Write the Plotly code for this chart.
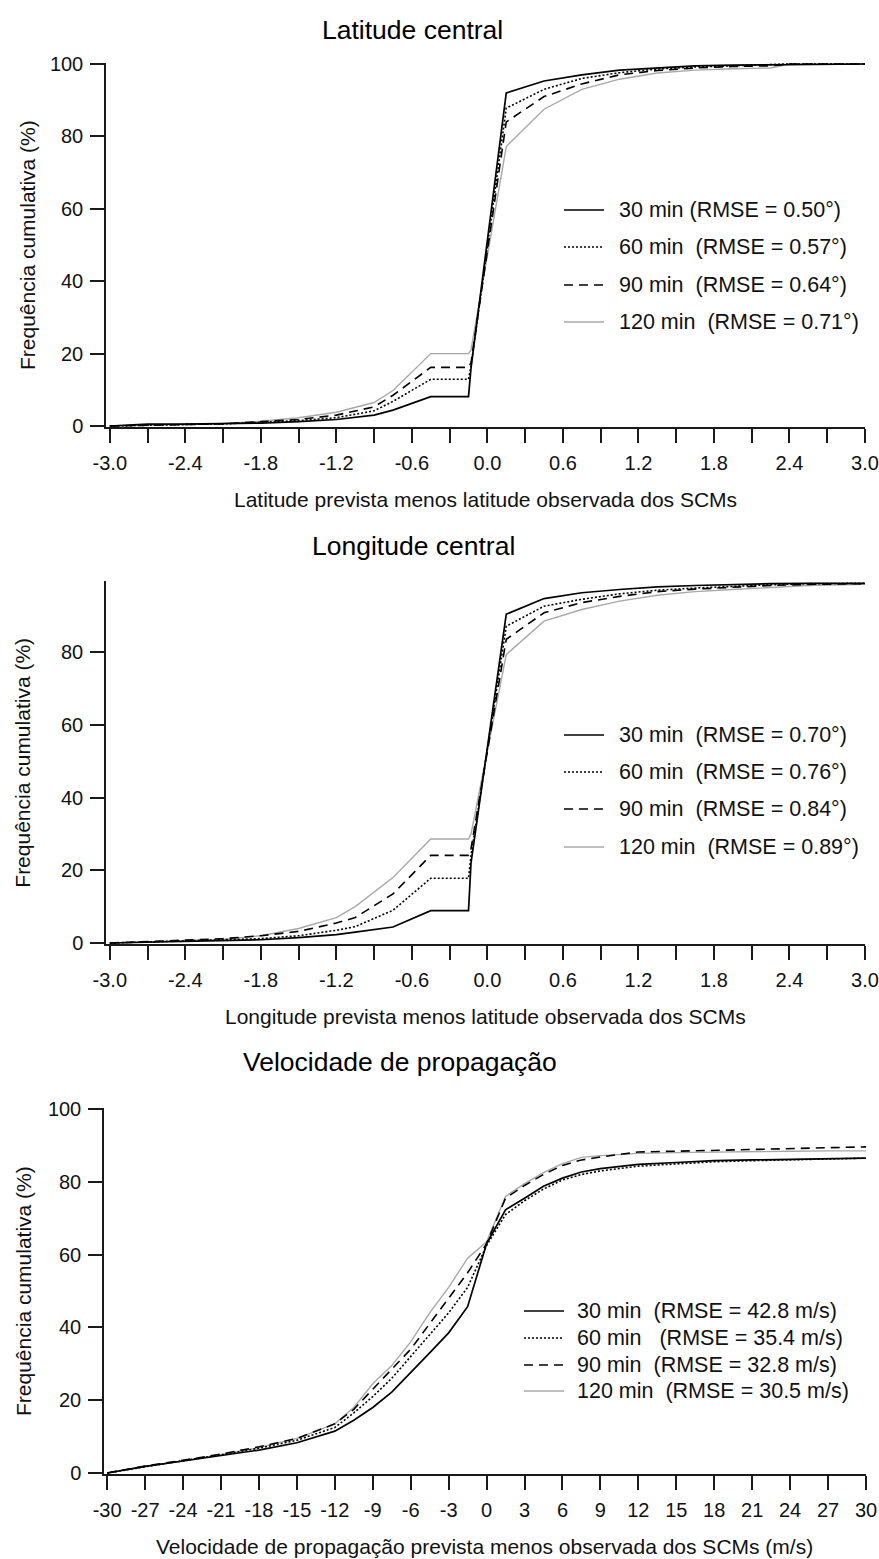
import plotly.graph_objects as go

# ---------------- data ----------------
series_names = ["30 min", "60 min", "90 min", "120 min"]

# Panel 1 : Latitude central
x_lat = [-3.0, -2.7, -2.4, -2.1, -1.8, -1.5, -1.2, -0.9, -0.75, -0.45, -0.15, -0.13,
         0.15, 0.45, 0.75, 1.05, 1.35, 1.65, 1.95, 2.25, 2.4, 3.0]
lat_30 = [0, 0.5, 0.5, 0.6, 0.8, 1.2, 1.8, 3.0, 4.4, 8.1, 8.1, 16.0,
          92.0, 95.3, 97.0, 98.3, 99.0, 99.5, 99.7, 99.8, 100, 100]
lat_60 = [0, 0.2, 0.3, 0.6, 1.0, 1.5, 2.3, 4.2, 6.8, 12.9, 12.9, 16.5,
          87.8, 93.0, 96.0, 97.6, 98.6, 99.2, 99.5, 99.7, 100, 100]
lat_90 = [0, 0.2, 0.4, 0.6, 1.2, 1.8, 3.0, 5.3, 8.5, 16.2, 16.2, 17.5,
          84.0, 91.0, 94.5, 97.0, 98.2, 98.9, 99.3, 99.5, 100, 100]
lat_120 = [0, 0.2, 0.4, 0.7, 1.3, 2.3, 3.8, 6.5, 9.8, 20.0, 20.0, 21.0,
           77.2, 87.5, 93.0, 95.8, 97.5, 98.3, 98.7, 98.9, 100, 100]
lat_legend = ["30 min (RMSE = 0.50°)",
              "60 min \u00a0(RMSE = 0.57°)",
              "90 min \u00a0(RMSE = 0.64°)",
              "120 min \u00a0(RMSE = 0.71°)"]

# Panel 2 : Longitude central
x_lon = [-3.0, -2.7, -2.4, -2.1, -1.8, -1.5, -1.2, -1.05, -0.75, -0.45, -0.15, -0.13,
         0.15, 0.45, 0.75, 1.05, 1.35, 1.65, 1.95, 2.25, 2.55, 3.0]
lon_30 = [0, 0.2, 0.4, 0.6, 0.9, 1.5, 2.3, 3.0, 4.4, 8.9, 8.9, 22.0,
          90.4, 94.7, 96.3, 97.2, 97.9, 98.3, 98.6, 98.8, 98.9, 98.9]
lon_60 = [0, 0.3, 0.5, 0.8, 1.2, 2.0, 3.5, 4.5, 9.0, 17.8, 17.8, 24.0,
          87.1, 92.6, 94.5, 96.0, 97.0, 97.6, 98.1, 98.5, 98.8, 98.9]
lon_90 = [0, 0.5, 0.8, 1.2, 2.0, 3.2, 5.5, 7.0, 13.5, 24.1, 24.1, 26.0,
          83.5, 90.8, 93.6, 95.3, 96.6, 97.3, 97.9, 98.3, 98.6, 98.8]
lon_120 = [0, 0.3, 0.5, 1.0, 2.0, 4.0, 7.0, 10.0, 18.0, 28.6, 28.6, 30.0,
           79.3, 88.5, 91.7, 94.0, 95.6, 96.6, 97.2, 97.8, 98.3, 98.6]
lon_legend = ["30 min \u00a0(RMSE = 0.70°)",
              "60 min \u00a0(RMSE = 0.76°)",
              "90 min \u00a0(RMSE = 0.84°)",
              "120 min \u00a0(RMSE = 0.89°)"]

# Panel 3 : Velocidade de propagação
x_vel = [-30, -27, -24, -21, -18, -15, -12, -10.5, -9, -7.5, -6, -4.5, -3, -1.5,
         0, 1.5, 3, 4.5, 6, 7.5, 9, 12, 15, 18, 21, 24, 27, 30]
vel_30 = [0, 1.8, 3.3, 4.8, 6.3, 8.3, 11.5, 14.5, 18.0, 22.2, 27.5, 33.0, 38.5, 45.7,
          63.0, 72.3, 75.5, 78.8, 81.0, 82.7, 83.6, 84.8, 85.3, 85.8, 86.0, 86.2, 86.3, 86.5]
vel_60 = [0, 1.8, 3.4, 5.0, 6.8, 9.0, 12.5, 16.5, 21.0, 26.0, 32.0, 38.0, 44.0, 51.0,
          62.5, 71.0, 74.8, 78.0, 80.5, 82.0, 83.0, 84.3, 85.0, 85.5, 85.8, 86.0, 86.2, 86.5]
vel_90 = [0, 1.9, 3.5, 5.2, 7.2, 9.5, 13.5, 17.5, 23.0, 28.5, 34.0, 41.0, 48.0, 55.0,
          63.0, 75.5, 79.0, 82.0, 84.5, 86.0, 86.8, 88.2, 88.4, 88.6, 88.8, 89.0, 89.3, 89.6]
vel_120 = [0, 1.8, 3.3, 5.0, 7.0, 9.5, 13.5, 18.0, 24.5, 29.5, 36.0, 44.0, 51.0, 59.0,
           63.5, 76.0, 79.5, 82.5, 85.0, 86.7, 87.2, 87.8, 88.0, 88.2, 88.3, 88.4, 88.5, 88.5]
vel_legend = ["30 min \u00a0(RMSE = 42.8 m/s)",
              "60 min \u00a0\u00a0(RMSE = 35.4 m/s)",
              "90 min \u00a0(RMSE = 32.8 m/s)",
              "120 min \u00a0(RMSE = 30.5 m/s)"]

deg_ticks = [-3.0, -2.4, -1.8, -1.2, -0.6, 0.0, 0.6, 1.2, 1.8, 2.4, 3.0]
deg_tick_labels = ["-3.0", "-2.4", "-1.8", "-1.2", "-0.6", "0.0", "0.6", "1.2", "1.8", "2.4", "3.0"]
deg_minor_ticks = [-2.7, -2.1, -1.5, -0.9, -0.3, 0.3, 0.9, 1.5, 2.1, 2.7]
vel_ticks = [-30, -27, -24, -21, -18, -15, -12, -9, -6, -3, 0, 3, 6, 9, 12, 15, 18, 21, 24, 27, 30]
vel_tick_labels = ["-30", "-27", "-24", "-21", "-18", "-15", "-12", "-9", "-6", "-3", "0",
                   "3", "6", "9", "12", "15", "18", "21", "24", "27", "30"]

titles = ["Latitude central", "Longitude central", "Velocidade de propagação"]
x_titles = ["Latitude prevista menos latitude observada dos SCMs",
            "Longitude prevista menos latitude observada dos SCMs",
            "Velocidade de propagação prevista menos observada dos SCMs (m/s)"]
y_title = "Frequência cumulativa (%)"

# ---------------- layout helpers ----------------
W, H = 879, 1559
FONT = "Liberation Sans, Arial, sans-serif"
INK = "#1a1a1a"
TXT = "#111111"


def px(x):
    return x / W


def py(y):
    return 1 - y / H


line_styles = [
    dict(color="#000000", width=1.7, dash="solid"),
    dict(color="#000000", width=1.6, dash="2px,2px"),
    dict(color="#000000", width=1.6, dash="9px,6px"),
    dict(color="#a8a8a8", width=1.4, dash="solid"),
]

panels = [
    dict(x=x_lat, ys=[lat_30, lat_60, lat_90, lat_120], legend=lat_legend,
         xdom=(106, 865), ydom=(62.9, 427.1), xr=[-3.03, 3.0], yr=[-0.3, 100.3],
         yticks=[0, 20, 40, 60, 80, 100], xticks=deg_ticks, xlabels=deg_tick_labels,
         xminor=deg_minor_ticks,
         title_xy=(412, 30), xtitle_y=500, ytitle_x=27,
         leg_line=(564, 604), leg_text=617, leg_rows=[210, 247, 285, 322]),
    dict(x=x_lon, ys=[lon_30, lon_60, lon_90, lon_120], legend=lon_legend,
         xdom=(106, 865), ydom=(581.3, 944.1), xr=[-3.03, 3.0], yr=[-0.3, 99.45],
         yticks=[0, 20, 40, 60, 80], xticks=deg_ticks, xlabels=deg_tick_labels,
         xminor=deg_minor_ticks,
         title_xy=(413, 546), xtitle_y=1017, ytitle_x=23,
         leg_line=(564, 604), leg_text=617, leg_rows=[735, 772, 809, 847]),
    dict(x=x_vel, ys=[vel_30, vel_60, vel_90, vel_120], legend=vel_legend,
         xdom=(104, 866), ydom=(1107.9, 1474.1), xr=[-30.25, 30], yr=[-0.3, 100.3],
         yticks=[0, 20, 40, 60, 80, 100], xticks=vel_ticks, xlabels=vel_tick_labels,
         xminor=None,
         title_xy=(400, 1062), xtitle_y=1546, ytitle_x=23,
         leg_line=(524, 564), leg_text=575, leg_rows=[1311, 1338, 1365, 1391]),
]

fig = go.Figure()
annotations = []
shapes = []
layout_axes = {}

for i, p in enumerate(panels):
    k = "" if i == 0 else str(i + 1)
    xa, ya = "x" + k, "y" + k
    # draw order: 120, 90, 60, 30 (black on top)
    for j in [3, 2, 1, 0]:
        fig.add_trace(go.Scatter(x=p["x"], y=p["ys"][j], mode="lines",
                                 name=series_names[j], line=line_styles[j],
                                 xaxis=xa, yaxis=ya, showlegend=False))
    common = dict(showline=True, linecolor=INK, linewidth=1.5, ticks="outside",
                  ticklen=14, tickwidth=1.5, tickcolor=INK, showgrid=False,
                  zeroline=False, automargin=False, ticklabelstandoff=3,
                  tickfont=dict(family=FONT, size=20, color=TXT))
    xax = dict(common, domain=[px(p["xdom"][0]), px(p["xdom"][1])], range=p["xr"],
               anchor=ya, tickmode="array", tickvals=p["xticks"], ticktext=p["xlabels"])
    if p["xminor"]:
        xax["minor"] = dict(tickmode="array", tickvals=p["xminor"], ticks="outside",
                            ticklen=14, tickwidth=1.5, tickcolor=INK, showgrid=False)
    layout_axes["xaxis" + k] = xax
    layout_axes["yaxis" + k] = dict(
        common, domain=[py(p["ydom"][1]), py(p["ydom"][0])], range=p["yr"],
        anchor=xa, tickmode="array", tickvals=p["yticks"])

    # panel title
    annotations.append(dict(text=titles[i], x=px(p["title_xy"][0]), y=py(p["title_xy"][1]),
                            xref="paper", yref="paper", xanchor="center", yanchor="middle",
                            showarrow=False, font=dict(family=FONT, size=26.5, color="#000000")))
    # axis titles
    annotations.append(dict(text=x_titles[i], x=px((p["xdom"][0] + p["xdom"][1]) / 2),
                            y=py(p["xtitle_y"]), xref="paper", yref="paper",
                            xanchor="center", yanchor="middle", showarrow=False,
                            font=dict(family=FONT, size=21, color=TXT)))
    annotations.append(dict(text=y_title, x=px(p["ytitle_x"]),
                            y=py((p["ydom"][0] + p["ydom"][1]) / 2), xref="paper", yref="paper",
                            xanchor="center", yanchor="middle", textangle=-90, showarrow=False,
                            font=dict(family=FONT, size=21, color=TXT)))
    # legend (line samples + labels)
    for j in range(4):
        row = p["leg_rows"][j]
        st = line_styles[j]
        shapes.append(dict(type="line", xref="paper", yref="paper",
                           x0=px(p["leg_line"][0]), x1=px(p["leg_line"][1]),
                           y0=py(row), y1=py(row),
                           line=dict(color=st["color"], width=st["width"], dash=st["dash"])))
        annotations.append(dict(text=p["legend"][j], x=px(p["leg_text"]), y=py(row),
                                xref="paper", yref="paper", xanchor="left", yanchor="middle",
                                showarrow=False,
                                font=dict(family=FONT, size=21.5, color=TXT)))

fig.update_layout(width=W, height=H, margin=dict(l=0, r=0, t=0, b=0),
                  plot_bgcolor="white", paper_bgcolor="white", showlegend=False,
                  annotations=annotations, shapes=shapes, **layout_axes)

fig.write_html("out.html")
